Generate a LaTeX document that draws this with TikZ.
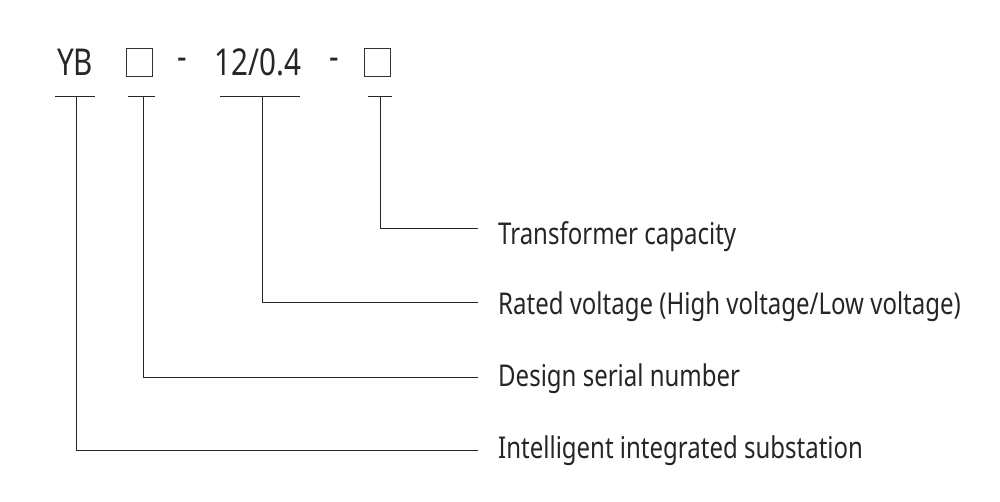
\documentclass[tikz,border=0pt]{standalone}
\usepackage{fontspec}
\setmainfont{Noto Sans}[FakeStretch=0.8]
\begin{document}
\begin{tikzpicture}[x=1pt,y=-1pt,
  ln/.style={line width=1pt,black!85},
  lab/.style={anchor=west,inner sep=0pt,font=\fontsize{30}{34}\selectfont,text=black!85},
  top/.style={inner sep=0pt,font=\fontsize{37}{40}\selectfont,text=black!85},
  sq/.style={draw=black!80,line width=1pt,minimum width=26pt,minimum height=28pt,inner sep=0pt}]
\useasboundingbox (0,0) rectangle (1000,501);
\node[top] (yb) at (75,62) {YB};
\node[sq] (b1) at (139,62) {};
\node[top] (d1) at (182,64) {-};
\node[top] (v) at (258,62) {12/0.4};
\node[top] (d2) at (334,64) {-};
\node[sq] (b2) at (377,62) {};
\coordinate (u1a) at (55,96); \coordinate (u1b) at (95,96);
\coordinate (u2a) at (128,96); \coordinate (u2b) at (155,96);
\coordinate (u3a) at (220,96); \coordinate (u3b) at (300,96);
\coordinate (u4a) at (368,96); \coordinate (u4b) at (392,96);
\draw[ln] (u1a)--(u1b); \draw[ln] (u2a)--(u2b); \draw[ln] (u3a)--(u3b); \draw[ln] (u4a)--(u4b);
\node[lab] (l4) at (498,237) {Transformer capacity};
\node[lab] (l3) at (498,307) {Rated voltage (High voltage/Low voltage)};
\node[lab] (l2) at (498,379) {Design serial number};
\node[lab] (l1) at (498,451) {Intelligent integrated substation};
\coordinate (t4) at (380,96); \coordinate (t3) at (262,96); \coordinate (t2) at (143,96); \coordinate (t1) at (76,96);
\draw[ln] (t4) |- (478,228);
\draw[ln] (t3) |- (478,302);
\draw[ln] (t2) |- (478,377);
\draw[ln] (t1) |- (478,450);
\end{tikzpicture}
\end{document}
